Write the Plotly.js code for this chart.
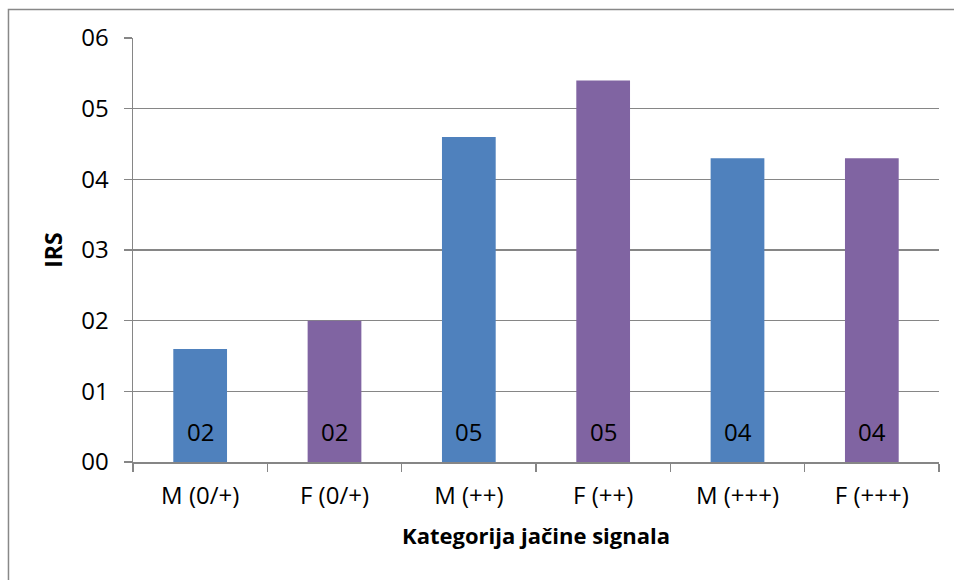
<!DOCTYPE html>
<html>
<head>
<meta charset="utf-8">
<script src="https://cdn.plot.ly/plotly-3.0.1.min.js"></script>
<style>html,body{margin:0;padding:0;background:#fff;}#chart{width:954px;height:580px;}</style>
</head>
<body>
<div id="chart"></div>
<script>
const categories = ['M (0/+)', 'F (0/+)', 'M (++)', 'F (++)', 'M (+++)', 'F (+++)'];
const irsValues = [1.6, 2.0, 4.6, 5.4, 4.3, 4.3];
const barLabels = ['02', '02', '05', '05', '04', '04'];
const yTickValues = [0, 1, 2, 3, 4, 5, 6];
const yTickLabels = ['00', '01', '02', '03', '04', '05', '06'];
const barColors = ['#4F81BD', '#8064A2', '#4F81BD', '#8064A2', '#4F81BD', '#8064A2'];

const FONT = 'Open Sans, Liberation Sans, sans-serif';

const trace = {
  type: 'bar',
  x: categories,
  y: irsValues,
  marker: {color: barColors},
  hoverinfo: 'x+y'
};

const annotations = categories.map((c, i) => ({
  x: c, y: 0, xref: 'x', yref: 'y',
  text: barLabels[i],
  showarrow: false,
  yanchor: 'bottom',
  yshift: 12,
  font: {family: FONT, size: 24, color: '#000'}
}));

const layout = {
  width: 954, height: 580,
  margin: {l: 133, r: 15, t: 38, b: 118},
  paper_bgcolor: '#fff', plot_bgcolor: '#fff',
  bargap: 0.6,
  showlegend: false,
  font: {family: FONT, size: 24, color: '#000'},
  xaxis: {
    type: 'category',
    tickson: 'boundaries',
    ticks: 'outside', ticklen: 8, tickcolor: '#868686', tickwidth: 1.5,
    showline: true, linecolor: '#868686', linewidth: 1.5,
    showgrid: false,
    ticklabelstandoff: 12,
    tickfont: {family: FONT, size: 24, color: '#000'},
    title: {text: '<b>Kategorija jačine signala</b>', font: {family: FONT, size: 22, color: '#000'}, standoff: 18}
  },
  yaxis: {
    range: [0, 6],
    tickvals: yTickValues, ticktext: yTickLabels,
    ticks: 'outside', ticklen: 8, tickcolor: '#868686', tickwidth: 1.5,
    showline: true, linecolor: '#868686', linewidth: 1.5,
    showgrid: true, gridcolor: '#868686', gridwidth: 1.5,
    zeroline: false,
    ticklabelstandoff: 10,
    tickfont: {family: FONT, size: 24, color: '#000'},
    title: {text: '<b>IRS</b>', font: {family: FONT, size: 23, color: '#000'}, standoff: 12}
  },
  annotations: annotations,
  shapes: [{
    type: 'rect', xref: 'paper', yref: 'paper',
    x0: -0.1545, x1: 1.05, y0: -0.4, y1: 1.0672,
    line: {color: '#888', width: 1.5}, fillcolor: 'rgba(0,0,0,0)', layer: 'below'
  }]
};

Plotly.newPlot('chart', [trace], layout, {displayModeBar: false, staticPlot: true});
</script>
</body>
</html>
